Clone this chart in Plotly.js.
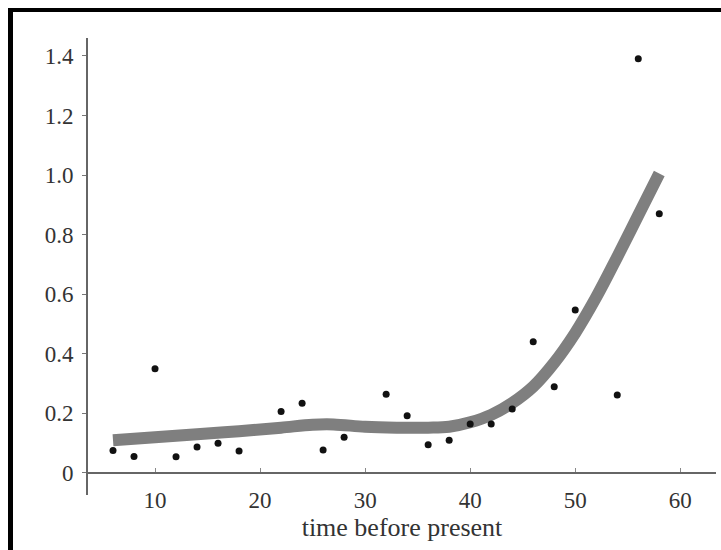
<!DOCTYPE html>
<html>
<head>
<meta charset="utf-8">
<script src="https://cdn.plot.ly/plotly-3.0.1.min.js"></script>
<style>
  html, body { margin: 0; padding: 0; background: #fff; overflow: hidden; width: 721px; height: 550px; }
  #topbar { position: absolute; left: 8px; top: 8px; width: 713px; height: 4px; background: #000; z-index: 3; }
  #leftbar { position: absolute; left: 8px; top: 8px; width: 5px; height: 542px; background: #000; z-index: 3; }
  #rightcover { position: absolute; left: 717px; top: 12px; width: 4px; height: 538px; background: #fff; z-index: 2; }
  #chart { position: absolute; left: 0; top: 0; width: 721px; height: 550px; z-index: 1; }
</style>
</head>
<body>
<div id="chart"></div>
<div id="rightcover"></div>
<div id="topbar"></div>
<div id="leftbar"></div>
<script>
// Observed data points
var pointX = [6, 8, 10, 12, 14, 16, 18, 22, 24, 26, 28, 32, 34, 36, 38, 40, 42, 44, 46, 48, 50, 54, 56, 58];
var pointY = [0.075, 0.055, 0.35, 0.054, 0.087, 0.10, 0.074, 0.206, 0.234, 0.077, 0.12, 0.264, 0.192, 0.095, 0.11, 0.164, 0.164, 0.215, 0.44, 0.289, 0.547, 0.262, 1.39, 0.87];

// Smooth fitted curve
var curveX = [6, 10, 14, 18, 22, 25, 27, 30, 33, 36, 38, 40, 42, 44, 46, 48, 50, 52, 54, 56, 58];
var curveY = [0.11, 0.12, 0.13, 0.14, 0.152, 0.162, 0.163, 0.155, 0.152, 0.152, 0.155, 0.17, 0.195, 0.235, 0.29, 0.37, 0.47, 0.59, 0.725, 0.865, 1.005];

// Tick labels
var xTickVals = [10, 20, 30, 40, 50, 60];
var xTickText = ["10", "20", "30", "40", "50", "60"];
var yTickVals = [0, 0.2, 0.4, 0.6, 0.8, 1.0, 1.2, 1.4];
var yTickText = ["0", "0.2", "0.4", "0.6", "0.8", "1.0", "1.2", "1.4"];

var xTitle = "time before present";

var yMin = -0.074, yMax = 1.46;

var traces = [
  {
    x: curveX, y: curveY, type: "scatter", mode: "lines",
    line: { color: "#7f7f7f", width: 12, shape: "spline", smoothing: 1.0 },
    hoverinfo: "skip", showlegend: false
  },
  {
    x: pointX, y: pointY, type: "scatter", mode: "markers",
    marker: { color: "#111", size: 7 },
    showlegend: false
  }
];

var layout = {
  width: 721, height: 550,
  margin: { l: 88, r: 5, t: 38, b: 55, pad: 0 },
  paper_bgcolor: "#fff",
  plot_bgcolor: "#fff",
  font: { family: "Liberation Serif, Times New Roman, serif", size: 23, color: "#333" },
  showlegend: false,
  xaxis: {
    range: [3.62, 63.4],
    anchor: "free",
    position: (0 - yMin) / (yMax - yMin),
    showline: true, linecolor: "#666", linewidth: 2,
    showgrid: false, zeroline: false,
    tickvals: xTickVals, ticktext: xTickText,
    ticks: "inside", ticklen: 4, tickcolor: "#888", tickwidth: 1,
    ticklabelstandoff: 6,
    tickfont: { size: 23, color: "#333" },
    title: { text: xTitle, font: { size: 26, color: "#333" }, standoff: 3 }
  },
  yaxis: {
    range: [yMin, yMax],
    showline: true, linecolor: "#666", linewidth: 2,
    showgrid: false, zeroline: false,
    tickvals: yTickVals, ticktext: yTickText,
    ticks: "outside", ticklen: 4, tickcolor: "#777", tickwidth: 1,
    ticklabelstandoff: 4,
    tickfont: { size: 23, color: "#333" }
  }
};

Plotly.newPlot("chart", traces, layout, { displayModeBar: false, staticPlot: true });
</script>
</body>
</html>
